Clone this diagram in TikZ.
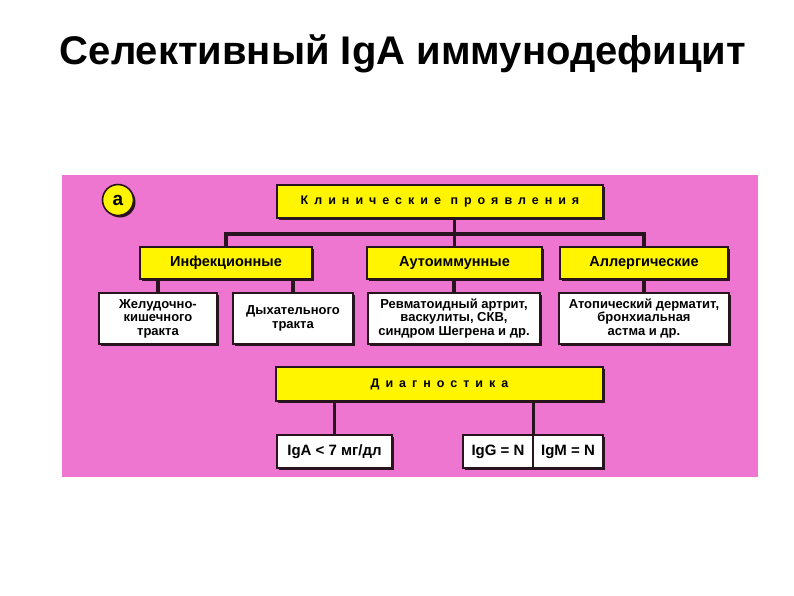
\documentclass[tikz,border=0pt]{standalone}
\usepackage{fontspec}
\setmainfont{Liberation Sans}
\newfontfamily\spacedfont[LetterSpace=48]{Liberation Sans}
\usetikzlibrary{shadows}
\definecolor{rose}{RGB}{238,118,208}
\definecolor{lemon}{RGB}{255,245,0}
\definecolor{ink}{RGB}{40,20,30}

\begin{document}
\begin{tikzpicture}[x=1pt,y=-1pt,
  head/.style={draw=ink,line width=1.6pt,fill=lemon,inner sep=0pt,align=center,
               font=\fontsize{14.5}{16}\selectfont\bfseries,
               drop shadow={shadow xshift=2pt,shadow yshift=-2pt,fill=ink,opacity=1}},
  caps/.style={head,font=\spacedfont\fontsize{12.5}{14}\selectfont\bfseries},
  leaf/.style={head,fill=white,font=\fontsize{13}{13.6}\selectfont\bfseries},
  lab/.style={leaf,font=\fontsize{15}{16}\selectfont\bfseries},
  link/.style={draw=ink,line width=3.2pt}]
\useasboundingbox (0,0) rectangle (794,595);
\fill[white] (0,0) rectangle (794,595);
\fill[rose] (62,175) rectangle (758,477);
\node[anchor=base,font=\fontsize{40}{44}\selectfont\bfseries] (title) at (403,64)
  {Селективный IgA иммунодефицит};
% clinical branch
\node[head,circle,minimum size=31pt,font=\fontsize{19}{20}\selectfont\bfseries] (tag) at (118,200) {a};
\node[caps,minimum width=326pt,minimum height=33pt] (clin) at (440,201.5) {Клинические проявления};
\node[head,minimum width=172pt,minimum height=32pt] (infect) at (226,263) {Инфекционные};
\node[head,minimum width=175pt,minimum height=32pt] (auto) at (454.5,263) {Аутоиммунные};
\node[head,minimum width=168pt,minimum height=32pt] (allerg) at (644,263) {Аллергические};
\node[leaf,minimum width=118pt,minimum height=51pt] (gi) at (158,318.5) {Желудочно-\\кишечного\\тракта};
\node[leaf,minimum width=120pt,minimum height=51pt] (resp) at (293,318.5) {Дыхательного\\тракта};
\node[leaf,minimum width=172pt,minimum height=51pt] (rheum) at (454,318.5)
  {Ревматоидный артрит,\\васкулиты, СКВ,\\синдром Шегрена и др.};
\node[leaf,minimum width=170pt,minimum height=51pt] (atop) at (644,318.5)
  {Атопический дерматит,\\бронхиальная\\астма и др.};
% diagnostics branch
\node[caps,minimum width=327pt,minimum height=34pt] (diag) at (439.5,384) {Диагностика};
\node[lab,minimum width=115pt,minimum height=33pt] (iga) at (334.5,451.5) {IgA < 7 мг/дл};
\node[lab,minimum width=70pt,minimum height=33pt] (igg) at (498,451.5) {IgG = N};
\node[lab,minimum width=70pt,minimum height=33pt] (igm) at (568,451.5) {IgM = N};
\coordinate (bar) at (0,234);
\draw[link] (infect.north) -- (infect.north |- bar) -| (allerg.north);
\draw[link] (auto.north) -- (auto.north |- clin.south);
\draw[link] (gi.north) -- (gi.north |- infect.south);
\draw[link] (resp.north) -- (resp.north |- infect.south);
\draw[link] (rheum.north) -- (rheum.north |- auto.south);
\draw[link] (atop.north) -- (atop.north |- allerg.south);
\draw[link] (iga.north) -- (iga.north |- diag.south);
\draw[link] (igg.north east) -- (igg.north east |- diag.south);
\end{tikzpicture}
\end{document}
